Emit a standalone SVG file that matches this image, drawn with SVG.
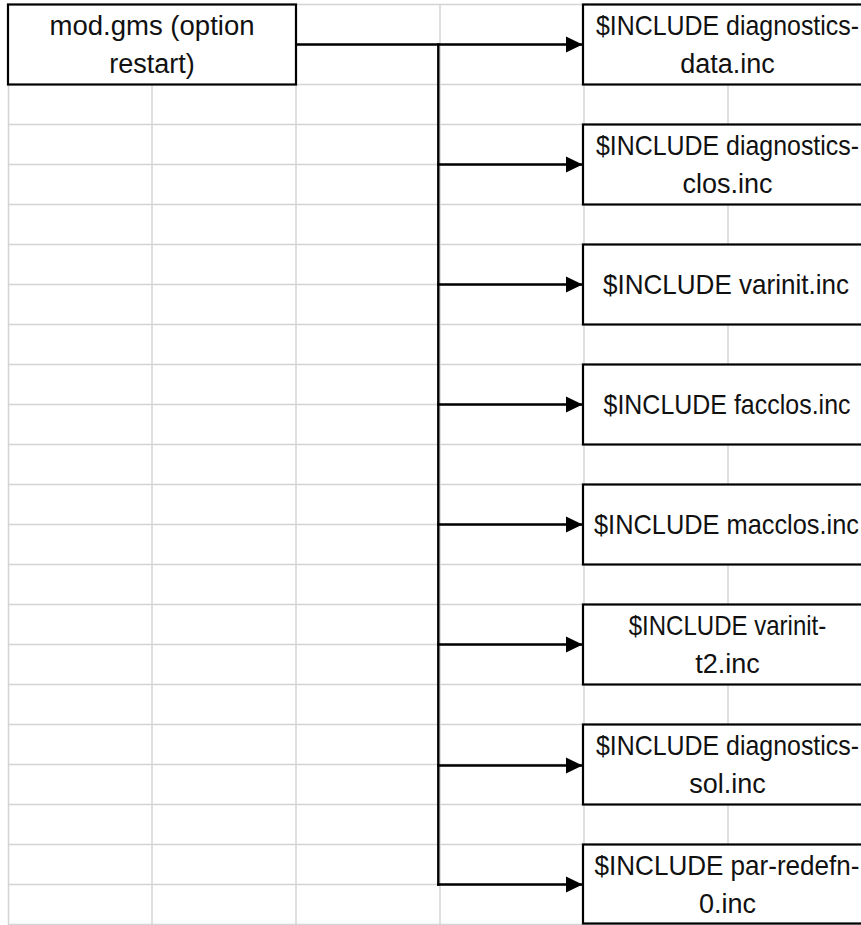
<svg xmlns="http://www.w3.org/2000/svg" width="861" height="925" viewBox="0 0 861 925">
  <style>
    .grid line { stroke: #d4d4d4; stroke-width: 1.5; }
    .box { fill: #ffffff; stroke: #000000; stroke-width: 2.2; }
    .lbl { font-family: "Liberation Sans", Arial, sans-serif; font-size: 27px; fill: #111111; text-anchor: middle; }
    .wire { fill: none; stroke: #000000; stroke-width: 2.4; }
  </style>
  <defs>
    <marker id="head" markerUnits="userSpaceOnUse" markerWidth="17" markerHeight="17" viewBox="0 0 17 17" refX="16" refY="8.5" orient="auto">
      <path d="M0,0.5 L16.5,8.5 L0,16.5 Z" fill="#000000"/>
    </marker>
  </defs>

  <rect width="861" height="925" fill="#ffffff"/>

  <!-- spreadsheet cell grid -->
  <g id="grid" class="grid">
    <line x1="8" y1="4.5" x2="880" y2="4.5"/>
    <line x1="8" y1="44.5" x2="880" y2="44.5"/>
    <line x1="8" y1="84.5" x2="880" y2="84.5"/>
    <line x1="8" y1="124.5" x2="880" y2="124.5"/>
    <line x1="8" y1="164.5" x2="880" y2="164.5"/>
    <line x1="8" y1="204.5" x2="880" y2="204.5"/>
    <line x1="8" y1="244.5" x2="880" y2="244.5"/>
    <line x1="8" y1="284.5" x2="880" y2="284.5"/>
    <line x1="8" y1="324.5" x2="880" y2="324.5"/>
    <line x1="8" y1="364.5" x2="880" y2="364.5"/>
    <line x1="8" y1="404.5" x2="880" y2="404.5"/>
    <line x1="8" y1="444.5" x2="880" y2="444.5"/>
    <line x1="8" y1="484.5" x2="880" y2="484.5"/>
    <line x1="8" y1="524.5" x2="880" y2="524.5"/>
    <line x1="8" y1="564.5" x2="880" y2="564.5"/>
    <line x1="8" y1="604.5" x2="880" y2="604.5"/>
    <line x1="8" y1="644.5" x2="880" y2="644.5"/>
    <line x1="8" y1="684.5" x2="880" y2="684.5"/>
    <line x1="8" y1="724.5" x2="880" y2="724.5"/>
    <line x1="8" y1="764.5" x2="880" y2="764.5"/>
    <line x1="8" y1="804.5" x2="880" y2="804.5"/>
    <line x1="8" y1="844.5" x2="880" y2="844.5"/>
    <line x1="8" y1="884.5" x2="880" y2="884.5"/>
    <line x1="8" y1="924.5" x2="880" y2="924.5"/>
    <line x1="8.5" y1="4.5" x2="8.5" y2="925"/>
    <line x1="152" y1="4.5" x2="152" y2="925"/>
    <line x1="296" y1="4.5" x2="296" y2="925"/>
    <line x1="440" y1="4.5" x2="440" y2="925"/>
    <line x1="584" y1="4.5" x2="584" y2="925"/>
    <line x1="728" y1="4.5" x2="728" y2="925"/>
  </g>

  <!-- fan-out connectors -->
  <g id="connectors">
    <line class="wire" x1="297" y1="44.5" x2="582" y2="44.5" marker-end="url(#head)"/>
    <line class="wire" x1="438.3" y1="43.3" x2="438.3" y2="885.7"/>
    <line class="wire" x1="437.1" y1="164.5" x2="582" y2="164.5" marker-end="url(#head)"/>
    <line class="wire" x1="437.1" y1="284.5" x2="582" y2="284.5" marker-end="url(#head)"/>
    <line class="wire" x1="437.1" y1="404.5" x2="582" y2="404.5" marker-end="url(#head)"/>
    <line class="wire" x1="437.1" y1="524.5" x2="582" y2="524.5" marker-end="url(#head)"/>
    <line class="wire" x1="437.1" y1="644.5" x2="582" y2="644.5" marker-end="url(#head)"/>
    <line class="wire" x1="437.1" y1="765.5" x2="582" y2="765.5" marker-end="url(#head)"/>
    <line class="wire" x1="437.1" y1="884.5" x2="582" y2="884.5" marker-end="url(#head)"/>
  </g>

  <!-- source program -->
  <g id="mod-gms">
    <rect class="box" x="8" y="4.5" width="288" height="80"/>
    <text class="lbl" transform="translate(152 35) scale(1.02 1)">mod.gms (option</text>
    <text class="lbl" x="152" y="72.5">restart)</text>
  </g>

  <!-- included files; long first lines are narrowed horizontally to sit inside the cell -->
  <g id="inc-diagnostics-data">
    <rect class="box" x="583" y="4.5" width="300" height="80"/>
    <text class="lbl" transform="translate(727.5 35) scale(0.923 1)">$INCLUDE diagnostics-</text>
    <text class="lbl" x="727.5" y="72.5">data.inc</text>
  </g>
  <g id="inc-diagnostics-clos">
    <rect class="box" x="583" y="124.5" width="300" height="80"/>
    <text class="lbl" transform="translate(727.5 155) scale(0.923 1)">$INCLUDE diagnostics-</text>
    <text class="lbl" x="727.5" y="192.5">clos.inc</text>
  </g>
  <g id="inc-varinit">
    <rect class="box" x="583" y="244.5" width="300" height="80"/>
    <text class="lbl" transform="translate(726 294) scale(0.965 1)">$INCLUDE varinit.inc</text>
  </g>
  <g id="inc-facclos">
    <rect class="box" x="583" y="364.5" width="300" height="80"/>
    <text class="lbl" transform="translate(727 414) scale(0.925 1)">$INCLUDE facclos.inc</text>
  </g>
  <g id="inc-macclos">
    <rect class="box" x="583" y="484.5" width="300" height="80"/>
    <text class="lbl" transform="translate(726.5 534) scale(0.94 1)">$INCLUDE macclos.inc</text>
  </g>
  <g id="inc-varinit-t2">
    <rect class="box" x="583" y="604.5" width="300" height="80"/>
    <text class="lbl" transform="translate(727.5 635) scale(0.89 1)">$INCLUDE varinit-</text>
    <text class="lbl" x="727.5" y="672.5">t2.inc</text>
  </g>
  <g id="inc-diagnostics-sol">
    <rect class="box" x="583" y="724.5" width="300" height="80"/>
    <text class="lbl" transform="translate(727.5 755) scale(0.923 1)">$INCLUDE diagnostics-</text>
    <text class="lbl" x="727.5" y="792.5">sol.inc</text>
  </g>
  <g id="inc-par-redefn-0">
    <rect class="box" x="583" y="844.5" width="300" height="79"/>
    <text class="lbl" transform="translate(727 875) scale(0.965 1)">$INCLUDE par-redefn-</text>
    <text class="lbl" x="727.5" y="912.5">0.inc</text>
  </g>
</svg>
